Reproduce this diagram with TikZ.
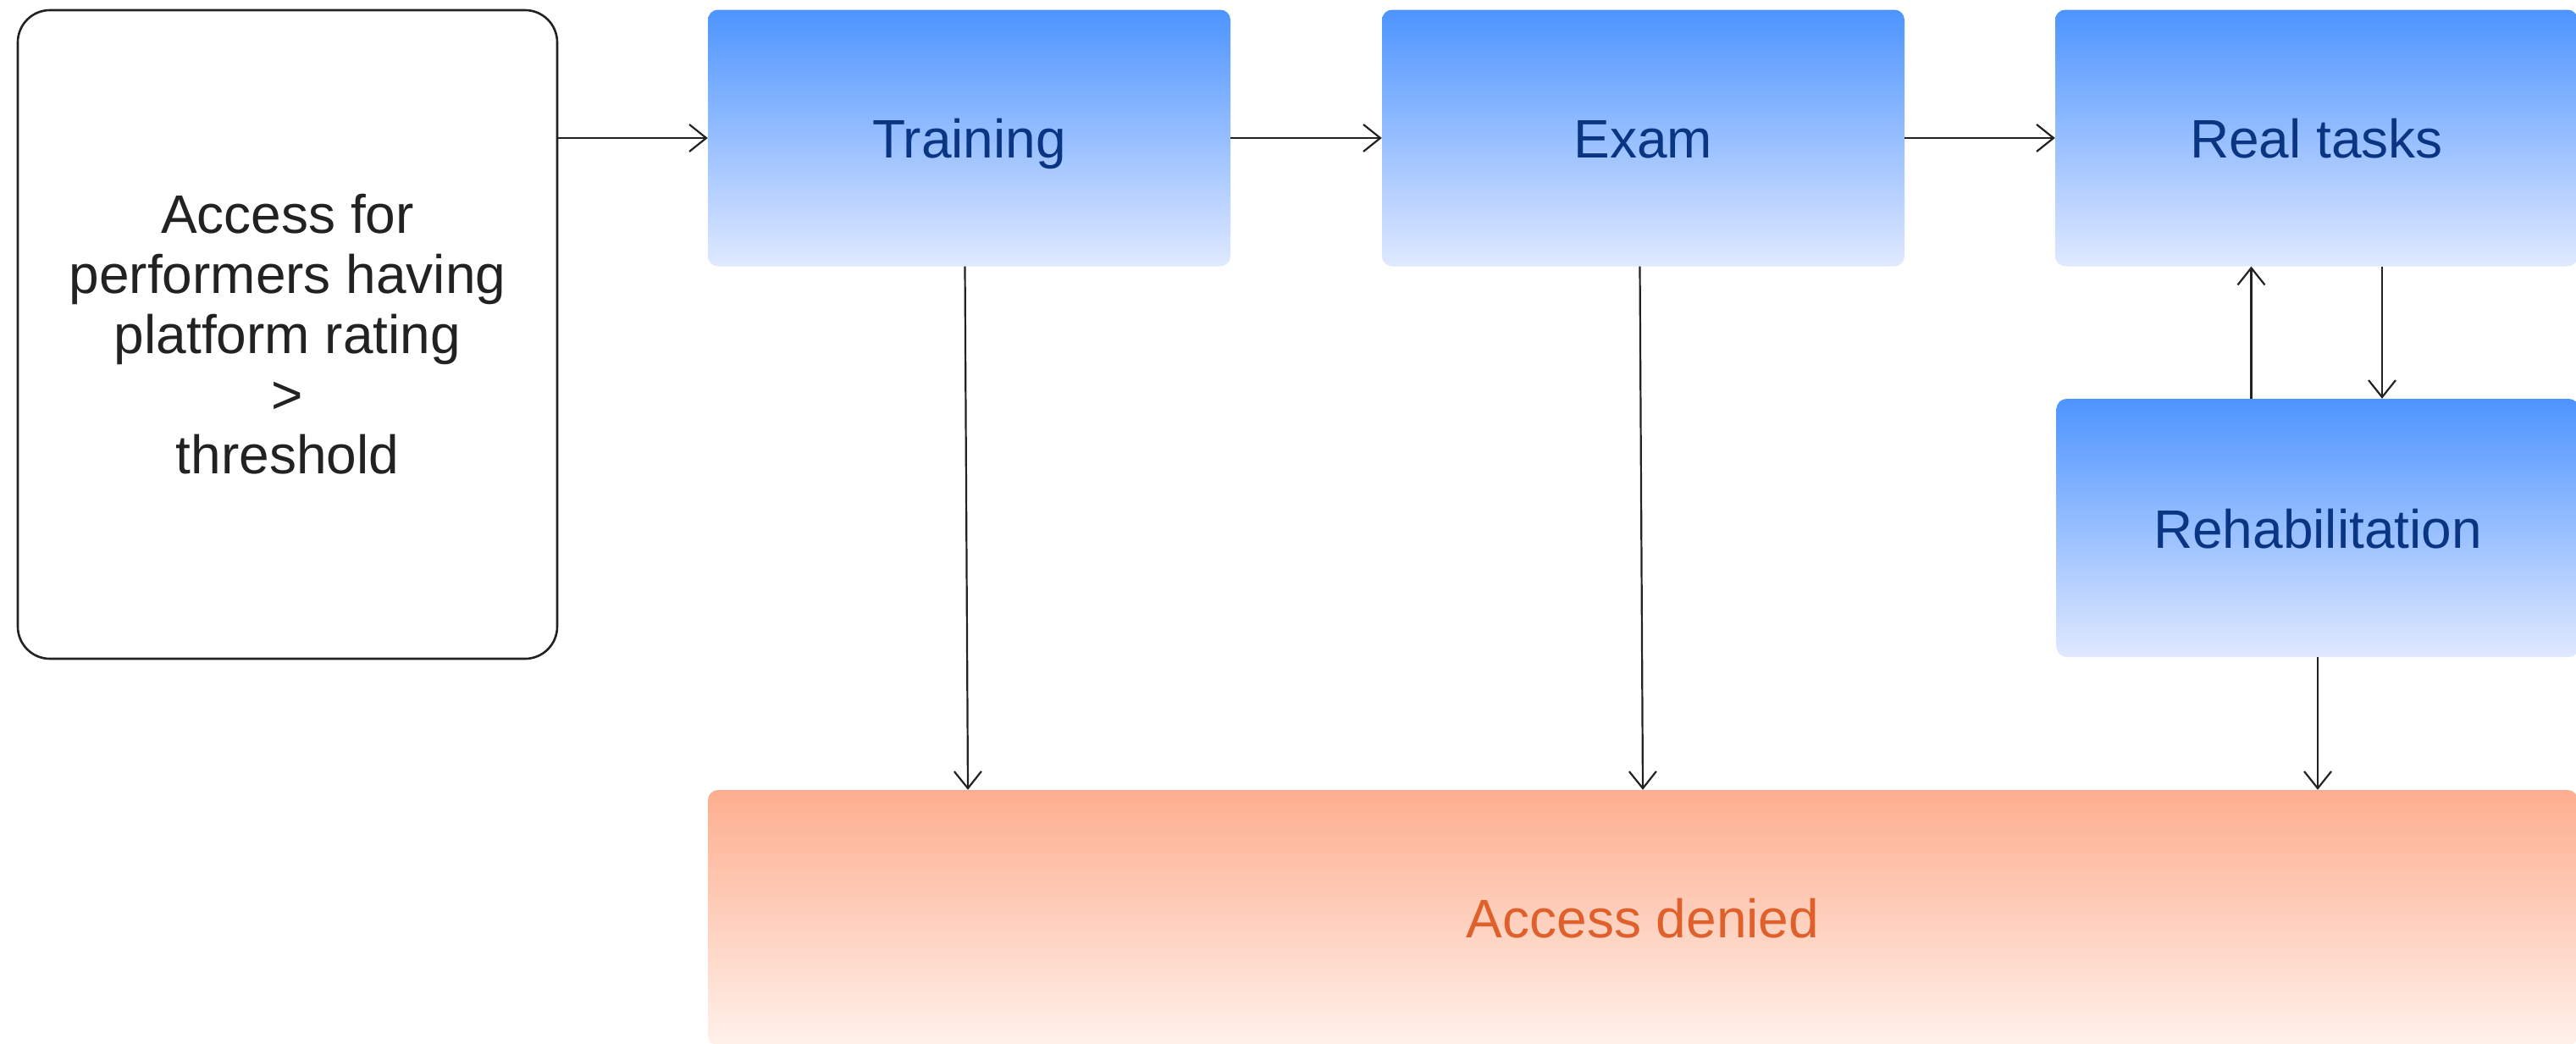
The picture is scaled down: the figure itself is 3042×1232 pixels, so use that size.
\documentclass[tikz,border=0pt]{standalone}
\usepackage{fontspec}
\setmainfont{Liberation Sans}
\usetikzlibrary{arrows.meta}
\definecolor{bluetop}{HTML}{4D94FF}
\definecolor{bluebot}{HTML}{E0E9FF}
\definecolor{bluetext}{HTML}{0A3582}
\definecolor{orangetop}{HTML}{FDAE8E}
\definecolor{orangebot}{HTML}{FFF1EB}
\definecolor{orangetext}{HTML}{E0602C}
\definecolor{ink}{HTML}{222222}
\tikzset{
  bluebox/.style={rounded corners=12pt, top color=bluetop, bottom color=bluebot,
    draw=none, minimum width=617pt, minimum height=303pt, inner sep=0pt,
    text height=47pt, text depth=0pt,
    text=bluetext, font=\fontsize{64}{71}\selectfont},
  startbox/.style={rounded corners=38pt, draw=ink, line width=2.6pt, fill=white,
    minimum width=637pt, minimum height=766pt, inner sep=0pt, align=center,
    text=ink, font=\fontsize{64}{71}\selectfont},
  deniedbox/.style={rounded corners=12pt, top color=orangetop, bottom color=orangebot,
    draw=none, minimum width=2208pt, minimum height=302pt, inner sep=0pt,
    text height=47pt, text depth=0pt,
    text=orangetext, font=\fontsize{64}{71}\selectfont},
  conn/.style={draw=ink, line width=2.2pt, -{Straight Barb[length=20pt,width=32pt]}}
}
\begin{document}
\begin{tikzpicture}[x=1pt,y=-1pt]
\useasboundingbox (0,0) rectangle (3042,1232);
\node[startbox] (start) at (339.5,395) {Access for\\performers having\\platform rating\\>\\threshold};
\node[bluebox] (tr) at (1144.5,163) {Training};
\node[bluebox] (ex) at (1940.5,163) {Exam};
\node[bluebox] (rt) at (2735.5,163) {Real tasks};
\node[bluebox, minimum height=305pt] (rh) at (2737,623.5) {Rehabilitation};
\node[deniedbox] (ad) at (1940,1084) {Access denied};
\coordinate (trend) at (1143,0);
\coordinate (exend) at (1940,0);
\draw[conn] (start.east |- tr.west) -- (tr.west);
\draw[conn] (tr.east) -- (ex.west);
\draw[conn] (ex.east) -- (rt.west);
\draw[conn] ([xshift=-5pt]tr.south) -- (trend |- ad.north);
\draw[conn] ([xshift=-4pt]ex.south) -- (exend |- ad.north);
\draw[conn] ([xshift=77.5pt]rt.south) -- ([xshift=77.5pt]rt.south |- rh.north);
\draw[conn] ([xshift=-78.5pt]rh.north) -- ([xshift=-78.5pt]rh.north |- rt.south);
\draw[conn] (rh.south) -- (rh.south |- ad.north);
\end{tikzpicture}
\end{document}
